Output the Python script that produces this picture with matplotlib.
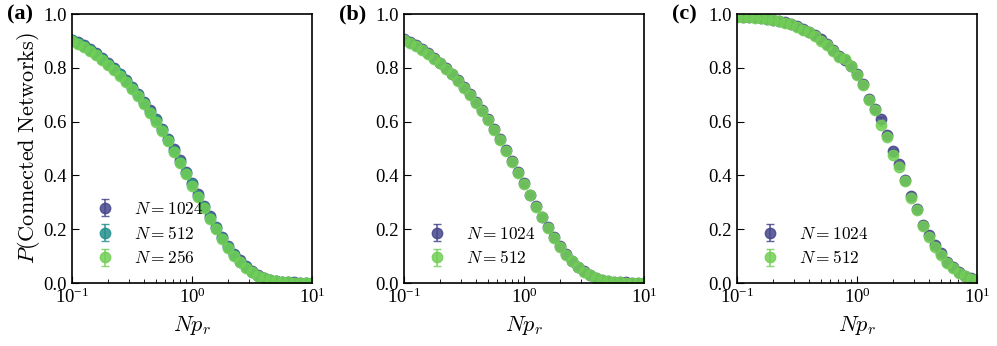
import numpy as np
import matplotlib.pyplot as plt

plt.rcParams['font.family'] = 'serif'
plt.rcParams['font.serif'] = ['Liberation Serif', 'DejaVu Serif']
plt.rcParams['mathtext.fontset'] = 'stix'

# Np_r grid (log spaced)
x = [0.1, 0.112, 0.126, 0.141, 0.158, 0.178, 0.2, 0.224, 0.251, 0.282,
     0.316, 0.355, 0.398, 0.447, 0.501, 0.562, 0.631, 0.708, 0.794, 0.891,
     1.0, 1.12, 1.26, 1.41, 1.58, 1.78, 2.0, 2.24, 2.51, 2.82,
     3.16, 3.55, 3.98, 4.47, 5.01, 5.62, 6.31, 7.08, 7.94, 8.91, 10.0]

# panel (a)
a_1024 = [0.905, 0.896, 0.884, 0.870, 0.856, 0.838, 0.820, 0.801, 0.779, 0.756,
          0.731, 0.704, 0.675, 0.642, 0.610, 0.574, 0.536, 0.497, 0.456, 0.414,
          0.372, 0.330, 0.288, 0.248, 0.209, 0.173, 0.138, 0.109, 0.084, 0.062,
          0.044, 0.031, 0.020, 0.013, 0.008, 0.005, 0.003, 0.002, 0.001, 0.001, 0.001]
a_512 = [0.903, 0.893, 0.881, 0.867, 0.852, 0.834, 0.816, 0.797, 0.776, 0.752,
         0.727, 0.700, 0.671, 0.638, 0.606, 0.570, 0.531, 0.491, 0.451, 0.409,
         0.367, 0.325, 0.283, 0.243, 0.205, 0.168, 0.134, 0.105, 0.080, 0.059,
         0.041, 0.028, 0.018, 0.011, 0.007, 0.004, 0.002, 0.001, 0.001, 0.000, 0.000]
a_256 = [0.900, 0.890, 0.878, 0.864, 0.849, 0.830, 0.812, 0.793, 0.771, 0.748,
         0.722, 0.696, 0.666, 0.634, 0.600, 0.565, 0.527, 0.487, 0.446, 0.404,
         0.362, 0.320, 0.279, 0.239, 0.201, 0.164, 0.131, 0.102, 0.078, 0.057,
         0.040, 0.027, 0.017, 0.011, 0.006, 0.004, 0.002, 0.001, 0.001, 0.000, 0.000]

# panel (b)
b_1024 = [0.906, 0.896, 0.884, 0.871, 0.856, 0.838, 0.820, 0.800, 0.779, 0.756,
          0.731, 0.703, 0.674, 0.642, 0.609, 0.573, 0.535, 0.496, 0.455, 0.413,
          0.371, 0.329, 0.287, 0.247, 0.208, 0.172, 0.137, 0.108, 0.082, 0.061,
          0.043, 0.030, 0.020, 0.012, 0.008, 0.005, 0.003, 0.002, 0.001, 0.001, 0.001]
b_512 = [0.903, 0.893, 0.881, 0.867, 0.852, 0.835, 0.817, 0.797, 0.776, 0.752,
         0.727, 0.700, 0.671, 0.639, 0.606, 0.570, 0.532, 0.492, 0.451, 0.409,
         0.368, 0.326, 0.284, 0.244, 0.206, 0.169, 0.135, 0.106, 0.081, 0.060,
         0.042, 0.029, 0.019, 0.011, 0.007, 0.004, 0.002, 0.001, 0.001, 0.000, 0.000]

# panel (c)
c_1024 = [0.992, 0.991, 0.990, 0.988, 0.986, 0.983, 0.980, 0.976, 0.971, 0.964,
          0.956, 0.946, 0.935, 0.921, 0.906, 0.888, 0.868, 0.846, 0.830, 0.806,
          0.778, 0.742, 0.686, 0.646, 0.610, 0.552, 0.492, 0.442, 0.382, 0.325,
          0.276, 0.216, 0.180, 0.140, 0.110, 0.080, 0.060, 0.041, 0.027, 0.017, 0.011]
c_512 = [0.991, 0.990, 0.989, 0.987, 0.985, 0.982, 0.979, 0.975, 0.969, 0.962,
         0.953, 0.943, 0.932, 0.918, 0.902, 0.884, 0.864, 0.842, 0.834, 0.809,
         0.772, 0.736, 0.682, 0.642, 0.589, 0.545, 0.475, 0.430, 0.380, 0.315,
         0.270, 0.213, 0.173, 0.135, 0.105, 0.075, 0.055, 0.038, 0.025, 0.015, 0.010]

err = 0.006

c_dark = '#46478b'
c_teal = '#24918c'
c_green = '#72cf55'

panels = [
    ('(a)', [(a_1024, '$N=1024$', c_dark), (a_512, '$N=512$', c_teal), (a_256, '$N=256$', c_green)]),
    ('(b)', [(b_1024, '$N=1024$', c_dark), (b_512, '$N=512$', c_green)]),
    ('(c)', [(c_1024, '$N=1024$', c_dark), (c_512, '$N=512$', c_green)]),
]

fig = plt.figure(figsize=(9.97, 3.46), dpi=100)
lefts = [0.0722, 0.4052, 0.7392]

for left, (tag, series) in zip(lefts, panels):
    ax = fig.add_axes([left, 0.182, 0.2407, 0.777])
    for ys, lab, col in series:
        ax.errorbar(x, ys, yerr=err, fmt='o', color=col, ms=7.5, mew=1.0,
                    alpha=0.85, capsize=3, elinewidth=1.2, capthick=1.2, label=lab)
    ax.set_xscale('log')
    ax.set_xlim(0.1, 10)
    ax.set_ylim(0, 1.0)
    ax.set_yticks([0, 0.2, 0.4, 0.6, 0.8, 1.0])
    ax.tick_params(which='both', direction='in', labelsize=13.5)
    ax.tick_params(which='major', length=5)
    ax.tick_params(which='minor', length=3)
    for s in ax.spines.values():
        s.set_linewidth(1.2)
    xl = ax.set_xlabel('$Np_r$', fontsize=16, labelpad=5)
    xl.set_math_fontfamily('cm')
    if tag == '(a)':
        yl = ax.set_ylabel(r'$P(\mathrm{Connected\ Networks})$', fontsize=16, labelpad=1)
        yl.set_math_fontfamily('cm')
    leg = ax.legend(loc='lower left', bbox_to_anchor=(0.0, 0.0), frameon=False,
                    fontsize=12.5, handletextpad=0.7, labelspacing=0.45)
    for t in leg.get_texts():
        t.set_math_fontfamily('cm')
    ax.text(-0.27, 1.0, tag, transform=ax.transAxes, fontsize=16,
            fontweight='bold', ha='left', va='center')

fig.savefig('out.png', dpi=100)
